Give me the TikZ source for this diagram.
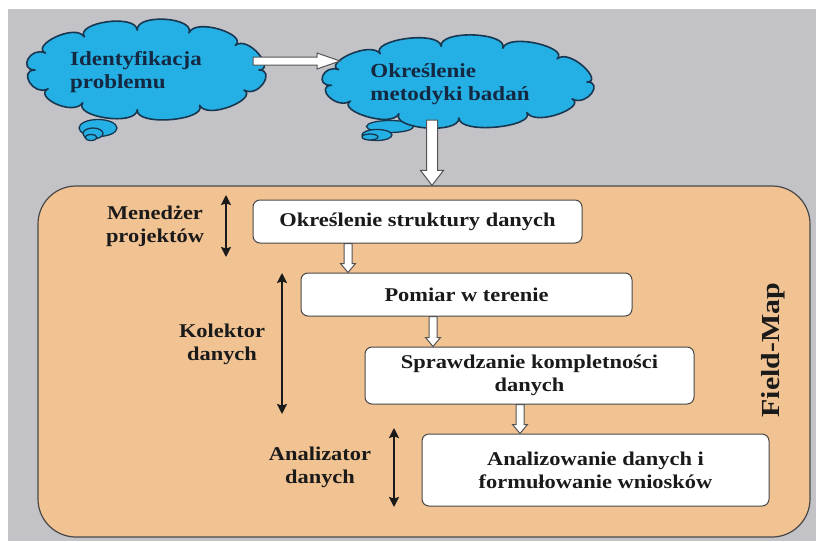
\documentclass[tikz,border=0pt]{standalone}
\usepackage{fontspec}
\setmainfont{Liberation Serif}[FakeStretch=1.15]
\usetikzlibrary{shapes.geometric,calc,arrows.meta}
\definecolor{bggray}{RGB}{195,195,199}
\definecolor{cloudblue}{RGB}{36,176,228}
\definecolor{cloudline}{RGB}{25,55,80}
\definecolor{panelfill}{RGB}{241,194,146}
\definecolor{ink}{RGB}{26,26,26}
\definecolor{navyink}{RGB}{20,40,65}
\newcommand\blkright[5]{\filldraw[blk] ($(#1)+(0,-#3)$) -- ($(#2)+(-#5,-#3)$) -- ($(#2)+(-#5,-#4)$) -- (#2) -- ($(#2)+(-#5,#4)$) -- ($(#2)+(-#5,#3)$) -- ($(#1)+(0,#3)$) -- cycle;}
\newcommand\blkdown[5]{\filldraw[blk] ($(#1)+(-#3,0)$) -- ($(#2)+(-#3,-#5)$) -- ($(#2)+(-#4,-#5)$) -- (#2) -- ($(#2)+(#4,-#5)$) -- ($(#2)+(#3,-#5)$) -- ($(#1)+(#3,0)$) -- cycle;}
% cloud: center x, center y, radius a, radius b, bulge h, angle list
\newcommand\cloudblob[6]{%
  \filldraw[cloudstyle] ({#1+#3*cos(0)},{#2+#4*sin(0)})
  \foreach \p/\q in {#6} {
    .. controls ({#1+(#3+#5)*cos(\p)},{#2+(#4+#5)*sin(\p)}) and ({#1+(#3+#5)*cos(\q)},{#2+(#4+#5)*sin(\q)}) .. ({#1+#3*cos(\q)},{#2+#4*sin(\q)})
  } -- cycle;}
\begin{document}
\begin{tikzpicture}[x=1pt,y=-1pt,
 cloudstyle/.style={fill=cloudblue, draw=cloudline, line width=1.6pt, line join=round},
 bubble/.style={ellipse, fill=cloudblue, draw=cloudline, line width=1.3pt, inner sep=0pt},
 stepbox/.style={rectangle, rounded corners=7pt, fill=white, draw=ink!80, line width=1pt, inner sep=0pt, font=\bfseries\fontsize{19.5}{23}\selectfont, text=ink, align=center},
 lbl/.style={font=\bfseries\fontsize{19.5}{23}\selectfont, text=ink, align=center},
 ctext/.style={font=\bfseries\fontsize{20}{23}\selectfont, text=navyink, align=left},
 blk/.style={fill=white, draw=ink!75, line width=1pt, line join=miter},
 role/.style={{Stealth[length=10pt,width=10pt,inset=1.5pt]}-{Stealth[length=10pt,width=10pt,inset=1.5pt]}, line width=1.8pt, draw=ink}
]
\fill[white] (0,0) rectangle (816,541);
\fill[bggray] (8,9) rectangle (816,541);
\useasboundingbox (0,0) rectangle (816,541);

% panel
\node[rectangle, rounded corners=38pt, fill=panelfill, draw=ink!80, line width=1.2pt, minimum width=772pt, minimum height=351pt, inner sep=0pt] (panel) at (424,361.5) {};

% thought bubbles
\node[bubble, minimum width=38pt, minimum height=17pt] (b1a) at (98,128) {};
\node[bubble, minimum width=20pt, minimum height=11pt] (b1b) at (93,133.5) {};
\node[bubble, minimum width=12pt, minimum height=6pt] (b1c) at (91,137.5) {};
\node[bubble, minimum width=47pt, minimum height=12pt] (b2a) at (390,126.5) {};
\node[bubble, minimum width=30pt, minimum height=11pt] (b2b) at (377,135) {};
\node[bubble, minimum width=16pt, minimum height=6pt] (b2c) at (370,137) {};

% clouds
\coordinate (c1) at (147,70);
\coordinate (c2) at (459,82);
\cloudblob{147}{70}{112}{40}{17}{0/30,30/62,62/95,95/125,125/152,152/180,180/205,205/236,236/265,265/292,292/322,322/360}
\cloudblob{459}{82}{128}{36}{17}{0/28,28/58,58/90,90/118,118/148,148/175,175/200,200/232,232/262,262/290,290/320,320/360}
\node[ctext] (t1) at (136,72) {Identyfikacja\\problemu};
\node[ctext] (t2) at (450,84) {Określenie\\metodyki badań};

% steps
\node[stepbox, minimum width=329pt, minimum height=43pt] (s1) at (417.5,221.5) {Określenie struktury danych};
\node[stepbox, minimum width=331pt, minimum height=43pt] (s2) at (466.5,294.5) {Pomiar w terenie};
\node[stepbox, minimum width=329pt, minimum height=57pt] (s3) at (529.5,375.5) {Sprawdzanie kompletności\\danych};
\node[stepbox, minimum width=347pt, minimum height=72pt] (s4) at (595.5,470) {Analizowanie danych i\\formułowanie wniosków};

% block arrows
\coordinate (h1) at ($(c1)+(106,-9)$);
\coordinate (h2) at ($(c2)+(-119,-21)$);
\blkright{h1}{h2}{4}{8}{23}
\coordinate (d1) at ($(c2)+(-27,38)$);
\coordinate (d2) at (d1 |- panel.north);
\blkdown{d1}{d2}{5.5}{11.5}{15}
\coordinate (x1) at (348,0);
\coordinate (x2) at (433,0);
\coordinate (x3) at (520,0);
\coordinate (a1) at (s1.south -| x1); \coordinate (a1e) at (s2.north -| x1);
\coordinate (a2) at (s2.south -| x2); \coordinate (a2e) at (s3.north -| x2);
\coordinate (a3) at (s3.south -| x3); \coordinate (a3e) at (s4.north -| x3);
\blkdown{a1}{a1e}{4}{7.5}{9}
\blkdown{a2}{a2e}{4}{7.5}{9}
\blkdown{a3}{a3e}{4}{7.5}{9}

% roles
\node[lbl] (r1) at (155,226) {Menedżer\\projektów};
\node[lbl] (r2) at (222,344) {Kolektor\\danych};
\node[lbl] (r3) at (320,467) {Analizator\\danych};
\coordinate (r1t) at (226,195); \coordinate (r1b) at (226,257);
\coordinate (r2t) at (282,273); \coordinate (r2b) at (282,414);
\coordinate (r3t) at (394,428); \coordinate (r3b) at (394,507);
\draw[role] (r1t) -- (r1b);
\draw[role] (r2t) -- (r2b);
\draw[role] (r3t) -- (r3b);

\node[rotate=90, font=\bfseries\fontsize{26}{26}\selectfont, text=ink] (fm) at (773,350) {Field-Map};
\end{tikzpicture}
\end{document}
